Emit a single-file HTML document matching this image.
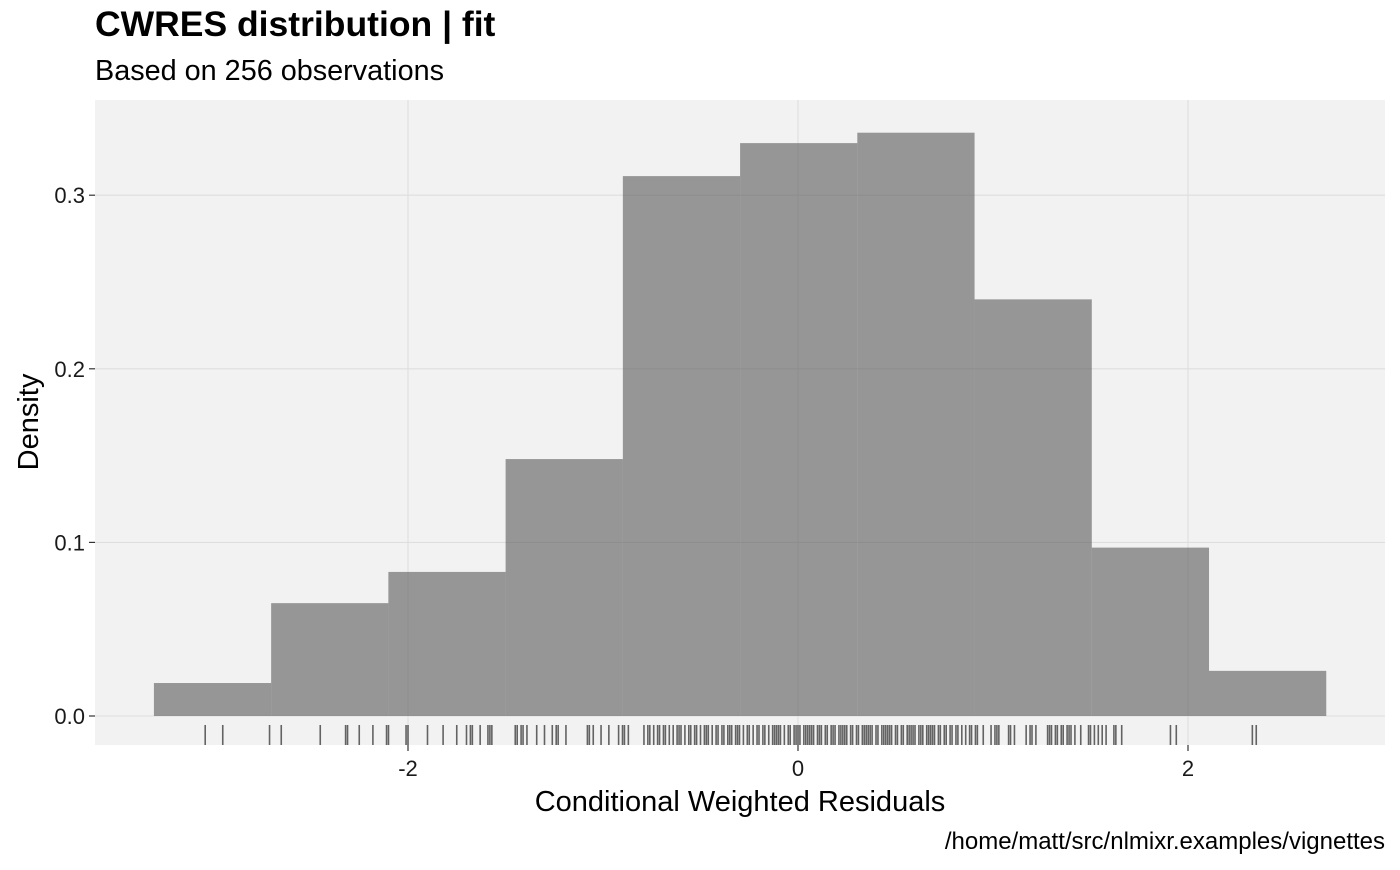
<!DOCTYPE html>
<html><head><meta charset="utf-8"><style>
body{margin:0;background:#fff;}
svg text{font-family:"Liberation Sans",Arial,sans-serif;}
</style></head><body>
<svg id="chart" width="1400" height="865" viewBox="0 0 1400 865" xmlns="http://www.w3.org/2000/svg">
<text x="95" y="36" font-size="35.5" font-weight="bold" fill="#000">CWRES distribution | fit</text>
<text x="95" y="80" font-size="28.8" fill="#000">Based on 256 observations</text>
<rect x="95" y="100" width="1290" height="645" fill="#f2f2f2"/>
<g id="grid"></g>
<g id="bars"></g>
<g id="rug"></g>
<g id="axes"></g>
<text x="740" y="811" font-size="29" text-anchor="middle" fill="#000">Conditional Weighted Residuals</text>
<text transform="translate(38,422) rotate(-90)" font-size="29" text-anchor="middle" fill="#000">Density</text>
<text x="1385" y="849" font-size="24" text-anchor="end" fill="#000">/home/matt/src/nlmixr.examples/vignettes</text>
</svg>
<script>
const binStart = -3.303;
const binWidth = 0.6012;
const densities = [0.019, 0.065, 0.083, 0.148, 0.311, 0.330, 0.336, 0.240, 0.097, 0.026];
const xTicks = [-2, 0, 2];
const xTickLabels = ["-2", "0", "2"];
const yTicks = [0, 0.1, 0.2, 0.3];
const yTickLabels = ["0.0", "0.1", "0.2", "0.3"];
const rugValues = [-3.04,-2.95,-2.71,-2.65,-2.45,-2.32,-2.31,-2.25,-2.18,-2.11,-2.10,-2.01,-2.00,-1.90,-1.82,-1.75,-1.70,-1.68,-1.67,-1.63,-1.59,-1.58,-1.57,-1.45,-1.44,-1.42,-1.41,-1.39,-1.34,-1.30,-1.26,-1.24,-1.23,-1.19,-1.08,-1.07,-1.05,-1.01,-0.97,-0.92,-0.90,-0.89,-0.87,
-0.79,-0.77,-0.76,-0.74,-0.72,-0.71,-0.69,-0.68,-0.66,-0.64,-0.62,-0.61,-0.60,-0.58,-0.56,-0.55,-0.53,-0.52,-0.50,-0.48,-0.47,-0.46,-0.44,-0.42,-0.41,-0.39,-0.38,-0.36,-0.34,-0.32,-0.31,-0.30,-0.28,-0.26,-0.25,-0.23,-0.21,-0.20,-0.18,-0.17,-0.15,-0.13,-0.12,-0.10,-0.09,-0.07,-0.05,-0.04,-0.02,-0.01,0.00,0.01,0.03,0.04,0.05,0.07,0.08,0.10,0.11,0.12,0.14,0.15,0.17,0.18,0.19,0.21,0.22,0.24,0.25,0.27,0.28,0.30,0.31,0.33,0.34,0.35,0.37,0.38,0.40,0.41,0.43,0.44,0.46,0.47,0.48,0.50,0.51,0.53,0.54,0.56,0.57,0.59,0.60,0.62,0.63,0.64,0.66,0.67,0.69,0.70,0.72,0.73,0.75,0.76,0.78,0.79,0.81,0.82,
-0.35,-0.11,0.06,0.23,0.36,0.45,0.58,0.68,
0.84,0.86,0.88,0.89,0.91,0.92,0.95,0.99,1.01,1.02,1.03,1.08,1.09,1.11,1.17,1.19,1.20,1.22,1.28,1.29,1.30,1.32,1.33,1.35,1.36,1.38,1.39,1.40,1.42,1.45,1.49,1.50,1.52,1.54,1.56,1.58,1.62,1.63,1.66,1.91,1.94,2.33,2.35];

const NS = "http://www.w3.org/2000/svg";
const px0 = 798, pxPerUnit = 195;
const py0 = 716, pyPerUnit = 1736;
function xs(v){ return px0 + v * pxPerUnit; }
function ys(v){ return py0 - v * pyPerUnit; }
function mk(tag, attrs, parent){ const e = document.createElementNS(NS, tag); for (const k in attrs) e.setAttribute(k, attrs[k]); parent.appendChild(e); return e; }

const grid = document.getElementById('grid');
xTicks.forEach(v => { const l = mk('line', {x1:xs(v), x2:xs(v), y1:100, y2:745, stroke:'#dedede', 'stroke-width':1.1}, grid);

 });
yTicks.forEach(v => { const l = mk('line', {x1:95, x2:1385, y1:ys(v), y2:ys(v), stroke:'#dedede', 'stroke-width':1.1}, grid);

 });

const bars = document.getElementById('bars');
densities.forEach((d, i) => {
  const x1 = xs(binStart + i * binWidth), x2 = xs(binStart + (i + 1) * binWidth);
  const r = mk('rect', {x:x1, y:ys(d), width:x2 - x1, height:ys(0) - ys(d), fill:'#595959', 'fill-opacity':0.6}, bars);
  
  
});

const rug = document.getElementById('rug');
rugValues.forEach(v => {
  const l = mk('line', {x1:xs(v), x2:xs(v), y1:725, y2:745, stroke:'#333', 'stroke-opacity':0.75, 'stroke-width':1.6}, rug);
  
  
});

const axes = document.getElementById('axes');
xTicks.forEach((v, i) => {
  const t = mk('line', {x1:xs(v), x2:xs(v), y1:745, y2:751, stroke:'#333', 'stroke-width':1.2}, axes);
  
  
  const lb = mk('text', {x:xs(v), y:776, 'font-size':22, 'text-anchor':'middle', fill:'#1a1a1a'}, axes);
  lb.textContent = xTickLabels[i];
  
  
});
yTicks.forEach((v, i) => {
  const t = mk('line', {x1:89, x2:95, y1:ys(v), y2:ys(v), stroke:'#333', 'stroke-width':1.2}, axes);
  
  
  const lb = mk('text', {x:85, y:ys(v) + 8, 'font-size':22, 'text-anchor':'end', fill:'#1a1a1a'}, axes);
  lb.textContent = yTickLabels[i];
  
  
});
</script>
</body></html>
